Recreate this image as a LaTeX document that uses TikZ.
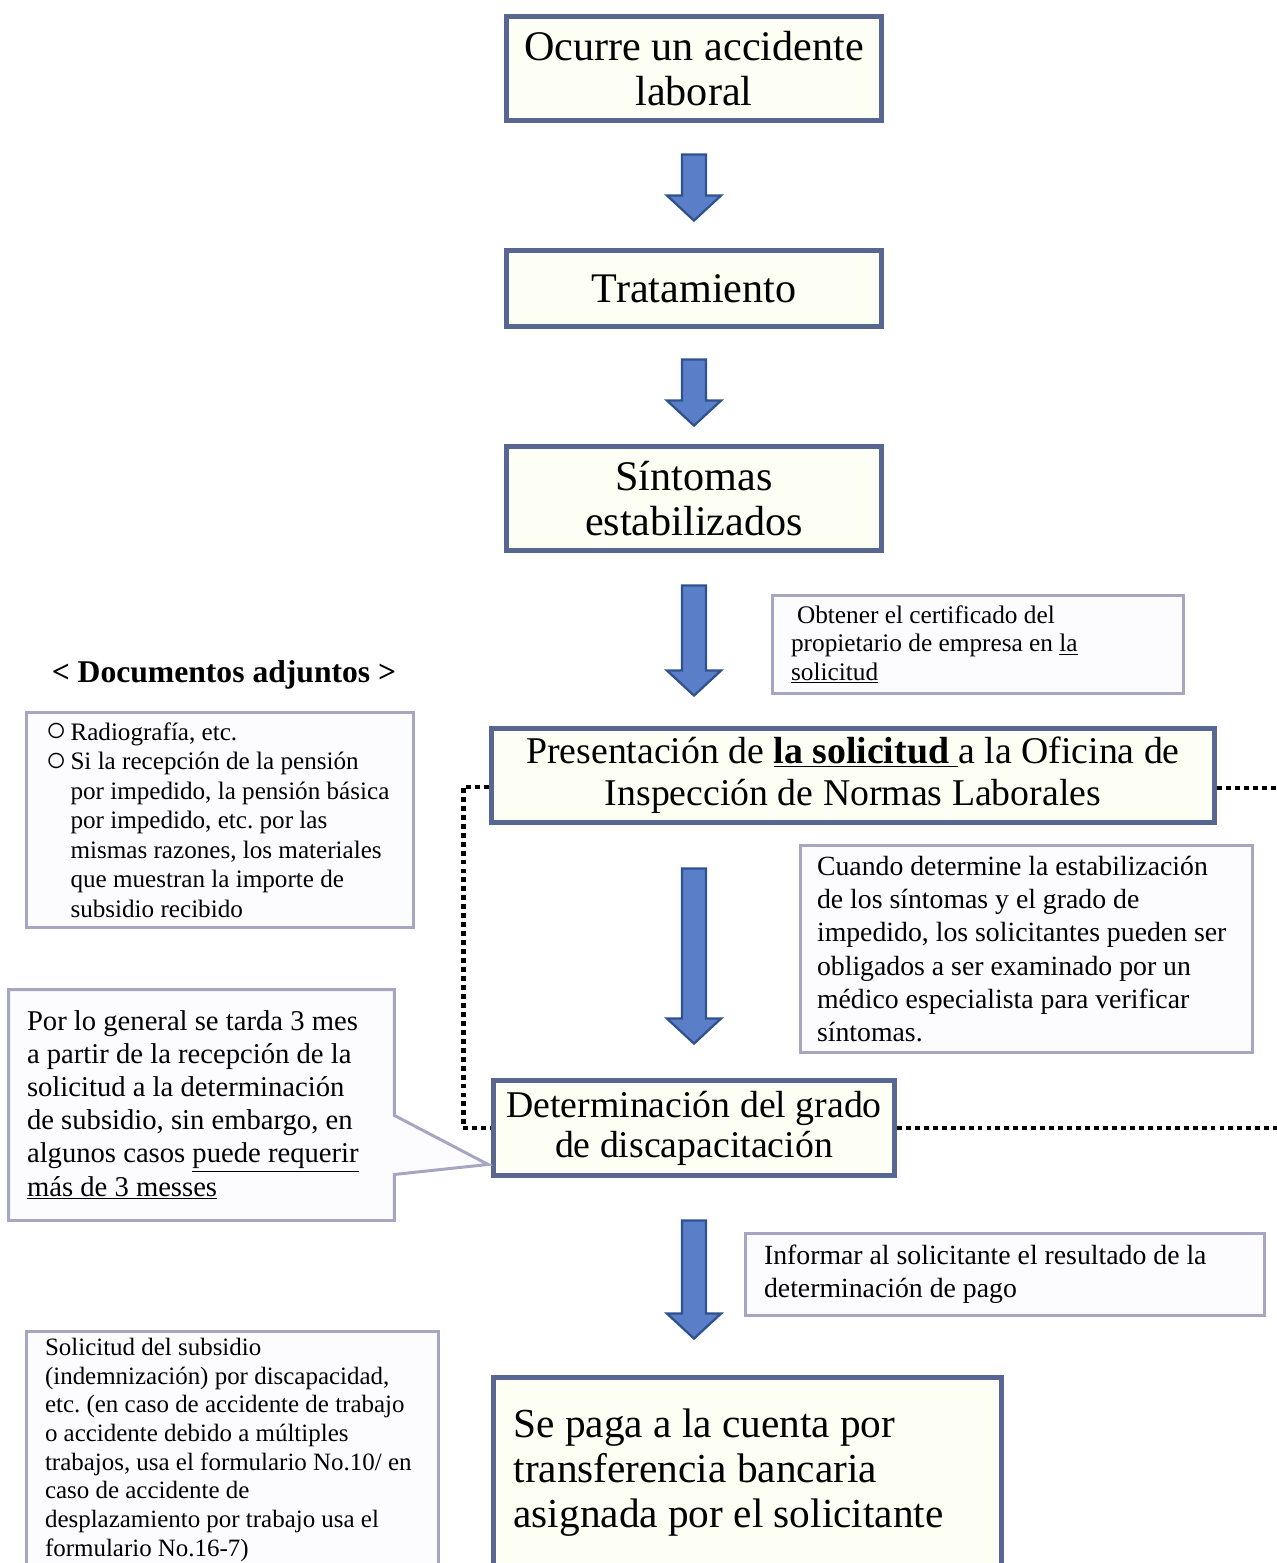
\documentclass[tikz,border=0pt]{standalone}
\usepackage{fontspec}
\setmainfont{Liberation Serif}
\frenchspacing
\usetikzlibrary{positioning,calc,shapes,shapes.callouts,backgrounds}
\definecolor{stepline}{RGB}{88,102,146}
\definecolor{stepfill}{RGB}{253,254,244}
\definecolor{noteline}{RGB}{166,166,194}
\definecolor{notefill}{RGB}{252,252,255}
\definecolor{arrowfill}{RGB}{91,126,200}
\definecolor{arrowline}{RGB}{47,82,143}
\newcommand{\circbullet}{\makebox[0.5cm][l]{\smash{\raisebox{-0.8pt}{\fontsize{20}{16}\selectfont○}}}}
\tikzset{
stepbox/.style={
	% The shape:
	rectangle,
	% The border:
	line width=2.8pt,
	draw=stepline,
	% The filling:
	fill=stepfill,
	align=center,
	inner sep=0pt,
	% Font
	font=\fontsize{24}{26}\selectfont
},
notebox/.style={
	rectangle,
	line width=1.7pt,
	draw=noteline,
	fill=notefill,
	align=flush left,
	inner ysep=0pt
},
blockarrow/.style={
	% fat arrow, from the top point down to the tip
	fill=arrowfill,
	draw=arrowline,
	line width=1.3pt,
	to path={($(\tikztostart)+(-12,0)$) -- ($(\tikztotarget)+(-12,-25)$)
		-- ($(\tikztotarget)+(-27,-25)$) -- (\tikztotarget)
		-- ($(\tikztotarget)+(27,-25)$) -- ($(\tikztotarget)+(12,-25)$)
		-- ($(\tikztostart)+(12,0)$) -- cycle}
},
dotline/.style={line width=2.8pt, dash pattern=on 2.8pt off 2.3pt, black}
}

\begin{document}
\begin{tikzpicture}[x=0.02cm,y=-0.02cm]
	\useasboundingbox (0,0) rectangle (1276,1563);
	\clip (0,0) rectangle (1276,1563);

	% the steps
	\node[stepbox, minimum width=7.5cm, minimum height=2.08cm] (occ) at (694,68.5) {Ocurre un accidente\\laboral};
	\node[stepbox, minimum width=7.5cm, minimum height=1.52cm] (trat) at (694,288.5) {Tratamiento};
	\node[stepbox, minimum width=7.5cm, minimum height=2.08cm] (sint) at (694,498.5) {Síntomas\\estabilizados};
	\node[stepbox, minimum width=14.46cm, minimum height=1.88cm, font=\fontsize{21.5}{23.8}\selectfont] (pres) at (853,775.5)
		{Presentación de \textbf{\underline{la solicitud\ }}a la Oficina de\\Inspección de Normas Laborales};
	\node[stepbox, minimum width=8.02cm, minimum height=1.9cm, font=\fontsize{21.5}{22.7}\selectfont] (det) at (694,1128)
		{Determinación del grado\\de discapacitación};
	\node[stepbox, minimum width=10.16cm, minimum height=3.8cm, align=flush left, text width=9.36cm, inner xsep=0.4cm,
		font=\fontsize{23.5}{25.8}\selectfont] (pago) at (747.5,1472.5)
		{Se paga a la cuenta por\\transferencia bancaria\\asignada por el solicitante};

	% dotted brackets
	\coordinate (rim1) at (1280,788);
	\coordinate (rim2) at (1280,1128);
	\begin{scope}[on background layer]
	\draw[dotline] ($(pres.west)+(0,11.5)$) -| ($(det.west)+(-28,0)$) -- (det.west);
	\draw[dotline] (pres.east |- rim1) -- (rim1);
	\draw[dotline] (det.east |- rim2) -- (rim2);
	\end{scope}

	% the notes
	\node[font=\bfseries\fontsize{18}{20}\selectfont] (doctit) at (224,675) {< Documentos adjuntos >};
	\node[notebox, minimum width=7.74cm, minimum height=4.3cm, text width=6.98cm, inner xsep=0.38cm,
		font=\fontsize{14.3}{16.8}\selectfont] (docs) at (220,820)
		{\circbullet Radiografía, etc.\\
		\circbullet Si la recepción de la pensión\\
		\hspace*{0.5cm}por impedido, la pensión básica\\
		\hspace*{0.5cm}por impedido, etc. por las\\
		\hspace*{0.5cm}mismas razones, los materiales\\
		\hspace*{0.5cm}que muestran la importe de\\
		\hspace*{0.5cm}subsidio recibido};
	\node[notebox, minimum width=8.22cm, minimum height=1.96cm, text width=7.48cm, inner xsep=0.37cm,
		font=\fontsize{14.4}{16.2}\selectfont] (cert) at (978,644.5)
		{\hspace*{0.12cm}Obtener el certificado del\\propietario de empresa en \underline{la}\\\underline{solicitud}};
	\node[notebox, minimum width=9.04cm, minimum height=4.14cm, text width=8.38cm, inner xsep=0.33cm,
		font=\fontsize{15.8}{19}\selectfont] (exam) at (1026.5,949)
		{Cuando determine la estabilización\\de los síntomas y el grado de\\impedido, los solicitantes pueden ser\\obligados a ser examinado por un\\médico especialista para verificar\\síntomas.};
	\coordinate (tip) at ($(det.south west)+(-3,-13.5)$);
	\node[notebox, rectangle callout, callout absolute pointer={(tip)}, callout pointer width=1.18cm,
		minimum width=7.72cm, minimum height=4.62cm, text width=6.98cm, inner xsep=0.37cm,
		font=\fontsize{16.3}{18.9}\selectfont] (plazo) at (201.5,1105)
		{Por lo general se tarda 3 mes\\a partir de la recepción de la\\solicitud a la determinación\\de subsidio, sin embargo, en\\algunos casos \underline{puede requerir}\\\underline{más de 3 messes}};
	\node[notebox, minimum width=10.38cm, minimum height=1.64cm, text width=9.64cm, inner xsep=0.37cm,
		font=\fontsize{15.8}{18.7}\selectfont] (aviso) at (1005,1274.5)
		{Informar al solicitante el resultado de la\\determinación de pago};
	\node[notebox, minimum width=8.24cm, minimum height=4.73cm, text width=7.5cm, inner xsep=0.37cm,
		font=\fontsize{14.2}{16.3}\selectfont] (form) at (232.5,1449.75)
		{Solicitud del subsidio\\(indemnización) por discapacidad,\\etc. (en caso de accidente de trabajo\\o accidente debido a múltiples\\trabajos, usa el formulario No.10/ en\\caso de accidente de\\desplazamiento por trabajo usa el\\formulario No.16-7)};

	% the arrows
	\coordinate (a1) at ($(occ.south)+(0,31.5)$);
	\coordinate (b1) at ($(trat.north)+(0,-27.5)$);
	\coordinate (a2) at ($(trat.south)+(0,30.5)$);
	\coordinate (b2) at ($(sint.north)+(0,-18.5)$);
	\coordinate (a3) at ($(sint.south)+(0,32.5)$);
	\coordinate (b3) at ($(sint.south |- pres.north)+(0,-30.5)$);
	\coordinate (a4) at ($(det.north |- pres.south)+(0,43.5)$);
	\coordinate (b4) at ($(det.north)+(0,-34.5)$);
	\coordinate (a5) at ($(det.south)+(0,42.5)$);
	\coordinate (b5) at ($(det.south |- pago.north)+(0,-36.5)$);
	\draw[blockarrow] (a1) to (b1);
	\draw[blockarrow] (a2) to (b2);
	\draw[blockarrow] (a3) to (b3);
	\draw[blockarrow] (a4) to (b4);
	\draw[blockarrow] (a5) to (b5);
\end{tikzpicture}
\end{document}
